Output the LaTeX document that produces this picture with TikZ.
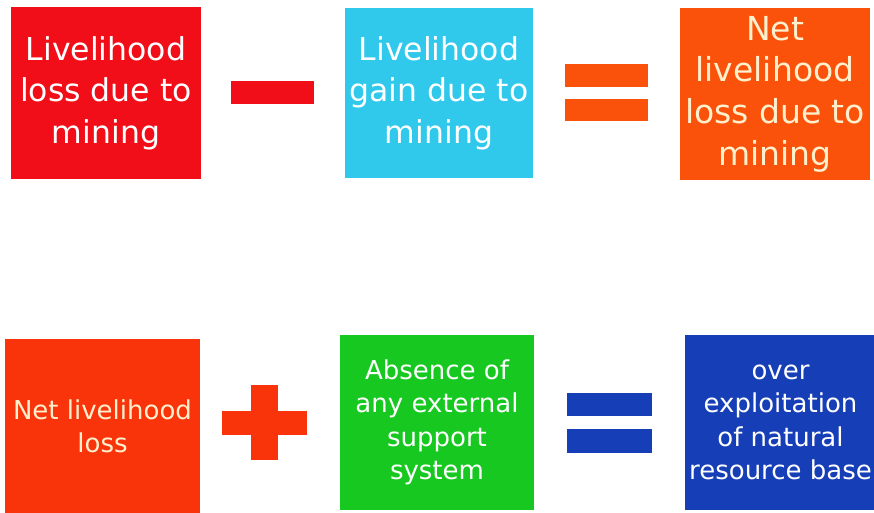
\documentclass[tikz,border=0pt]{standalone}
\usepackage{fontspec}
\setmainfont{DejaVu Sans}
\usetikzlibrary{positioning}
\definecolor{lossred}{RGB}{242,14,24}
\definecolor{gaincyan}{RGB}{48,200,235}
\definecolor{netorange}{RGB}{250,82,10}
\definecolor{netred}{RGB}{250,52,10}
\definecolor{absgreen}{RGB}{22,200,32}
\definecolor{overblue}{RGB}{22,62,182}
\definecolor{cream}{RGB}{255,240,205}
\tikzset{
  termbox/.style={rectangle, inner sep=0pt, align=center, text=white},
  toprow/.style={termbox, font=\fontsize{31.5}{41.5}\selectfont},
  botrow/.style={termbox, font=\fontsize{26}{33.5}\selectfont},
}
\begin{document}
\begin{tikzpicture}[x=1pt,y=-1pt]
\useasboundingbox (0,0) rectangle (874,513);

\node(loss)[toprow, fill=lossred, minimum width=190pt, minimum height=172pt] at (106,93) {Livelihood\\loss due to\\mining};
\node(gain)[toprow, fill=gaincyan, minimum width=188pt, minimum height=170pt] at (439,93) {Livelihood\\gain due to\\mining};
\node(net)[toprow, fill=netorange, text=cream, minimum width=190pt, minimum height=172pt,
  font=\fontsize{33}{41.7}\selectfont] at (775,94) {Net\\livelihood\\loss due to\\mining};

\node(netloss)[botrow, fill=netred, text=cream, minimum width=195pt, minimum height=175pt] at (102.5,426.5) {Net livelihood\\loss};
\node(absence)[botrow, fill=absgreen, minimum width=194pt, minimum height=175pt] at (437,422.5) {Absence of\\any external\\support\\system};
\node(over)[botrow, fill=overblue, minimum width=191pt, minimum height=175pt] at (780.5,422.5) {over\\exploitation\\of natural\\resource base};

% operators
\fill[lossred] (231,81) rectangle (314,104);
\fill[netorange] (565,64) rectangle (648,87);
\fill[netorange] (565,99) rectangle (648,121);

\fill[netred] (222,411) rectangle (307,435);
\fill[netred] (251,385) rectangle (278,460);
\fill[overblue] (567,393) rectangle (652,416);
\fill[overblue] (567,429) rectangle (652,453);
\end{tikzpicture}
\end{document}
